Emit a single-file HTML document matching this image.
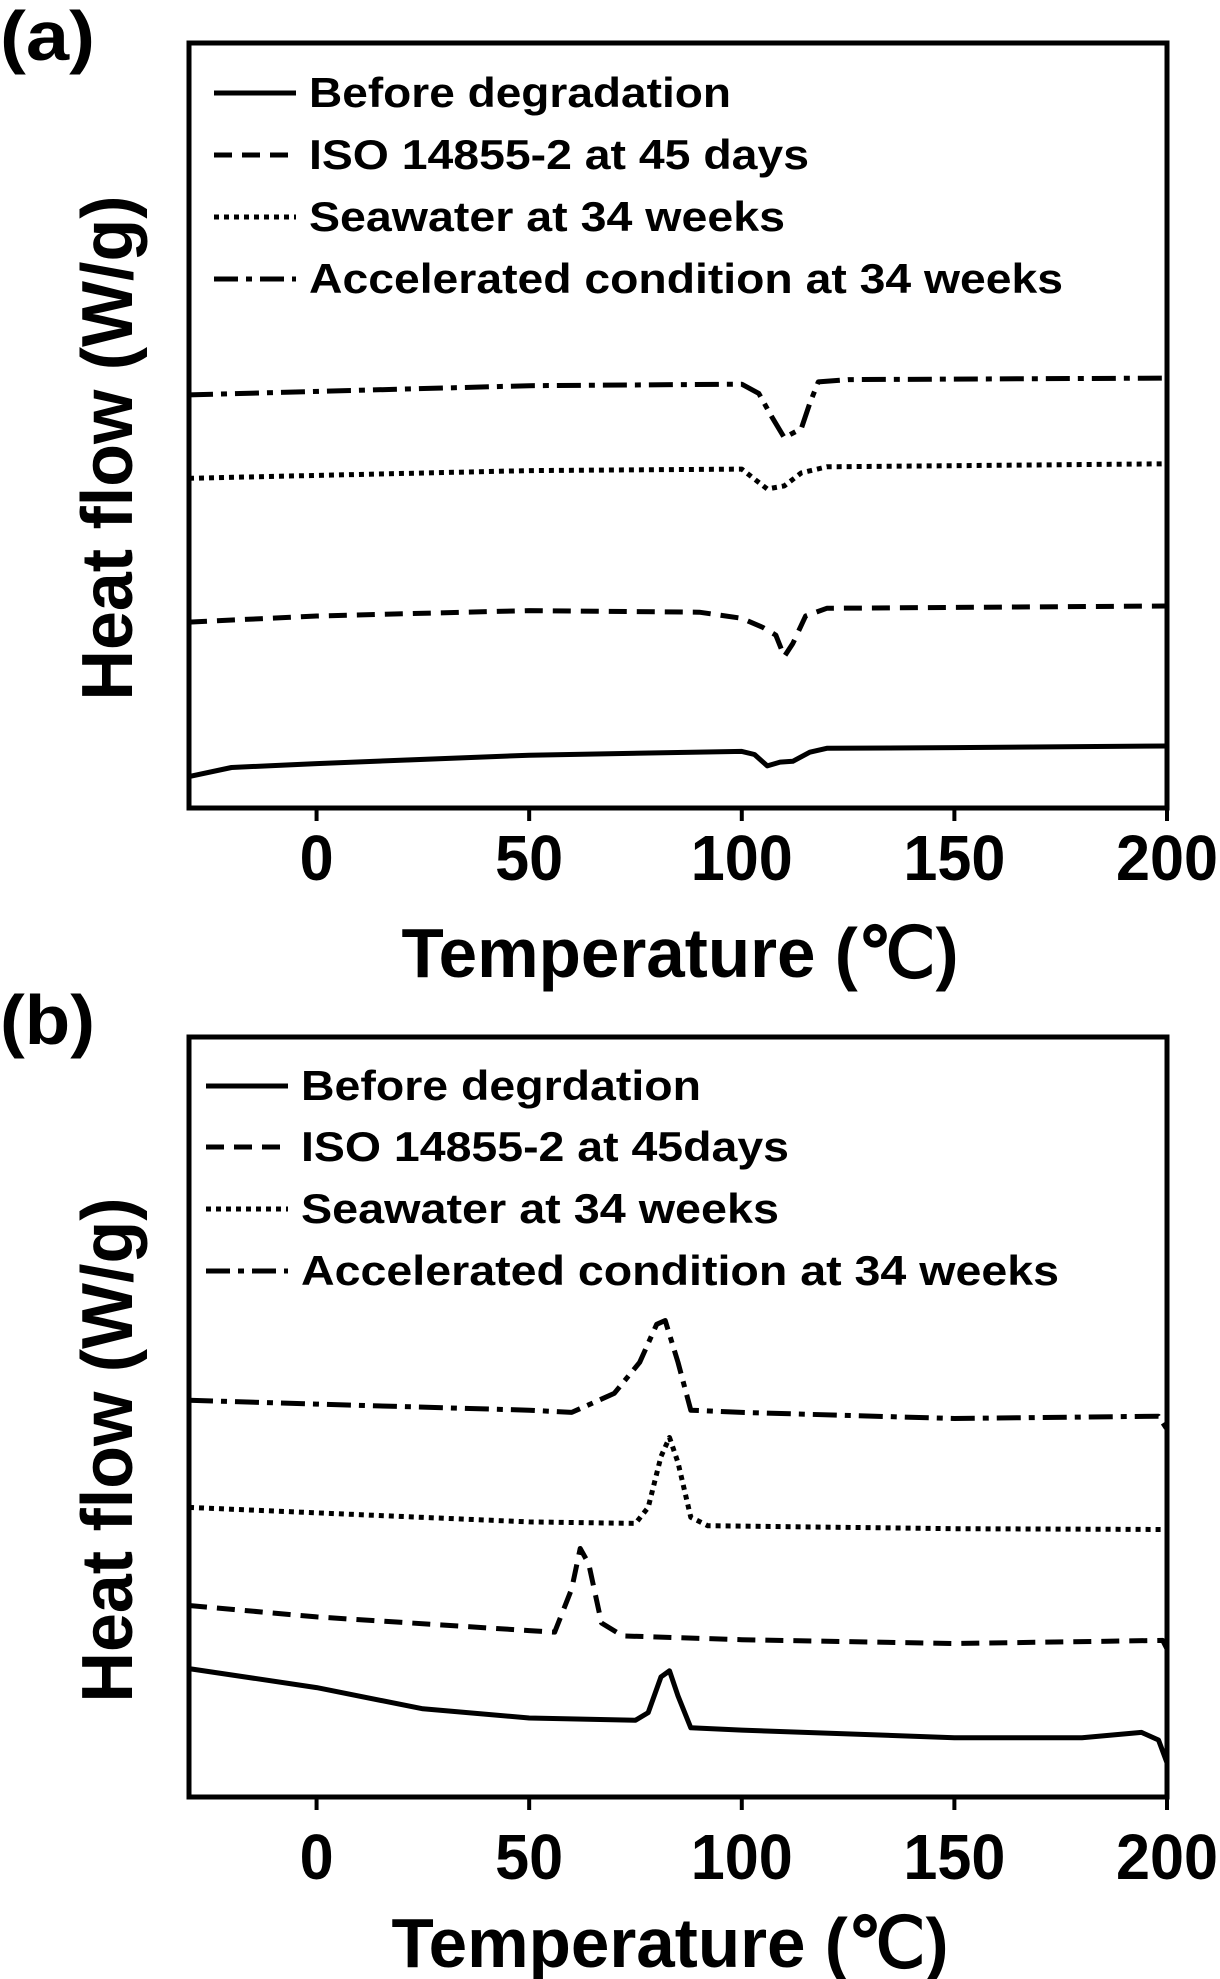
<!DOCTYPE html>
<html><head><meta charset="utf-8"><style>
html,body{margin:0;padding:0;background:#fff;}
svg{display:block;font-family:"Liberation Sans",Arial,sans-serif;font-weight:bold;}
</style></head><body>
<svg id="fig" width="1220" height="1979" viewBox="0 0 1220 1979" xmlns="http://www.w3.org/2000/svg"></svg>
<script>
const xTicks = [0, 50, 100, 150, 200];
const seriesNames = ["Before degradation","ISO 14855-2 at 45 days","Seawater at 34 weeks","Accelerated condition at 34 weeks"];
const seriesNamesB = ["Before degrdation","ISO 14855-2 at 45days","Seawater at 34 weeks","Accelerated condition at 34 weeks"];
// Panel (a) data: temperature (°C) and heat flow (relative units 0-100)
const aSolidX = [-30,-20,0,50,100,103,106,109,112,116,120,150,200];
const aSolidY = [4.1,5.3,5.8,6.9,7.4,7.0,5.5,6.0,6.1,7.3,7.8,7.9,8.1];
const aDashX = [-30,0,50,90,100,105,108,110,112,115,120,200];
const aDashY = [24.3,25.1,25.8,25.6,24.8,23.6,22.6,19.8,21.5,25.1,26.1,26.4];
const aDotX = [-30,50,100,103,106,110,114,120,200];
const aDotY = [43.1,44.1,44.3,43.0,41.7,42.1,43.8,44.6,45.0];
const aDdX = [-30,50,100,104,107,110,114,116,118,125,200];
const aDdY = [54.0,55.2,55.4,54.2,51.2,48.4,49.6,52.9,55.7,56.0,56.2];
// Panel (b) data
const bSolidX = [-30,0,25,50,75,78,81,83,85,88,100,150,180,194,198,200];
const bSolidY = [16.9,14.4,11.6,10.4,10.1,11.1,15.8,16.6,13.3,9.1,8.8,7.8,7.8,8.5,7.5,4.5];
const bDashX = [-30,0,50,56,60,62,64,67,72,100,150,199,200];
const bDashY = [25.2,23.7,21.9,21.7,27.4,32.7,30.7,22.9,21.2,20.7,20.2,20.6,19.5];
const bDotX = [-30,50,75,78,81,83,85,88,92,150,200];
const bDotY = [38.1,36.2,36.0,38.1,44.8,47.3,44.0,36.8,35.7,35.3,35.2];
const bDdX = [-30,0,50,60,70,76,80,82,85,88,100,150,198,200];
const bDdY = [52.2,51.7,50.9,50.6,53.1,57.2,62.2,62.7,57.2,50.9,50.6,49.8,50.1,48.4];

const NS = "http://www.w3.org/2000/svg";
const svg = document.getElementById("fig");
function el(tag, attrs, parent){const e=document.createElementNS(NS,tag);for(const k in attrs)e.setAttribute(k,attrs[k]);(parent||svg).appendChild(e);return e;}
const styles = [
  {dash:"none"},
  {dash:"18 10"},
  {dash:"5 5"},
  {dash:"24 8 6 8"}
];
function panel(cfg){
  const g = el("g",{});
  
  
  const L=189,R=1167,T=cfg.top,B=cfg.bottom;
  const xs = v => L + (v - (-30)) / 230 * (R - L);
  const ys = v => B - v / 100 * (B - T);
  cfg.series.forEach((s,i)=>{
    const d = s.x.map((xv,j)=>(j?"L":"M")+xs(xv).toFixed(1)+" "+ys(s.y[j]).toFixed(1)).join(" ");
    const p = el("path",{d:d,fill:"none",stroke:"#000","stroke-width":5,"stroke-linejoin":"round","stroke-dasharray":styles[i].dash},g);
    
    
  });
  const f = el("rect",{x:L,y:T,width:R-L,height:B-T,fill:"none",stroke:"#000","stroke-width":5},g);
  
  
  xTicks.forEach(t=>{
    const tk = el("line",{x1:xs(t),x2:xs(t),y1:B,y2:B+13,stroke:"#000","stroke-width":4},g);
    
    
    const tl = el("text",{x:xs(t),y:cfg.tickY,"font-size":64,"text-anchor":"middle",textLength:String(t).length*34,lengthAdjust:"spacingAndGlyphs"},g);
    tl.textContent = t;
    
    
  });
  const xt = el("text",{x:cfg.xTitleX,y:cfg.xTitleY,"font-size":70,"text-anchor":"middle",textLength:557,lengthAdjust:"spacingAndGlyphs"},g);
  xt.textContent = "Temperature (℃)";
  
  
  const yt = el("text",{x:0,y:0,"font-size":72,"text-anchor":"middle",textLength:505,lengthAdjust:"spacingAndGlyphs",transform:`translate(132,${cfg.yTitleY}) rotate(-90)`},g);
  yt.textContent = "Heat flow (W/g)";
  
  
  const pl = el("text",{x:0,y:cfg.labelY,"font-size":70,textLength:95,lengthAdjust:"spacingAndGlyphs"},g);
  pl.textContent = cfg.label;
  
  
  cfg.legendNames.forEach((n,i)=>{
    const y = cfg.legY[i];
    const ln = el("line",{x1:cfg.legX0,x2:cfg.legX0+82,y1:y-14,y2:y-14,stroke:"#000","stroke-width":5,"stroke-dasharray":styles[i].dash},g);
    
    
    const tx = el("text",{x:cfg.legX0+95,y:y,"font-size":42,textLength:cfg.legW[i],lengthAdjust:"spacingAndGlyphs"},g);
    tx.textContent = n;
    
    
  });
}
panel({name:"panel-a",top:43,bottom:808,tickY:880,xTitleX:680,xTitleY:977,yTitleY:448,label:"(a)",labelY:60,
  legendNames:seriesNames,legX0:214,legY:[107,169,231,293],legW:[422,500,476,754],
  series:[{x:aSolidX,y:aSolidY},{x:aDashX,y:aDashY},{x:aDotX,y:aDotY},{x:aDdX,y:aDdY}]});
panel({name:"panel-b",top:1037,bottom:1797,tickY:1879,xTitleX:670,xTitleY:1967,yTitleY:1450,label:"(b)",labelY:1044,
  legendNames:seriesNamesB,legX0:206,legY:[1100,1161,1223,1285],legW:[400,488,478,758],
  series:[{x:bSolidX,y:bSolidY},{x:bDashX,y:bDashY},{x:bDotX,y:bDotY},{x:bDdX,y:bDdY}]});
</script>
</body></html>
